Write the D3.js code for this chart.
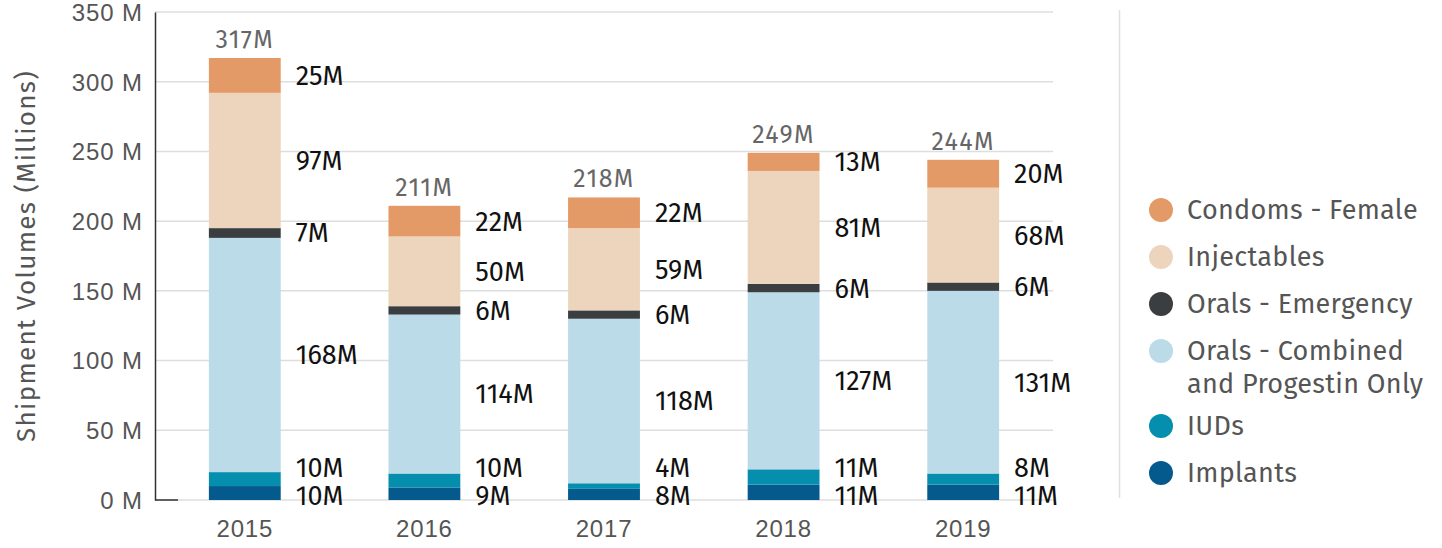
<!DOCTYPE html>
<html><head><meta charset="utf-8">
<script src="https://cdn.jsdelivr.net/npm/d3@7"></script>
<style>
html,body{margin:0;padding:0;background:#fff;}
svg{display:block;font-family:"Fira Sans","Open Sans","Noto Sans",sans-serif;}
</style></head><body>
<svg id="chart" width="1442" height="548"></svg>
<script>
const years = ["2015","2016","2017","2018","2019"];
const seriesNames = ["Implants","IUDs","Orals - Combined and Progestin Only","Orals - Emergency","Injectables","Condoms - Female"];
const implants = [10, 9, 8, 11, 11];
const iuds = [10, 10, 4, 11, 8];
const oralsCombined = [168, 114, 118, 127, 131];
const oralsEmergency = [7, 6, 6, 6, 6];
const injectables = [97, 50, 59, 81, 68];
const condomsFemale = [25, 22, 22, 13, 20];
const totals = [317, 211, 218, 249, 244];
const yTicks = [0, 50, 100, 150, 200, 250, 300, 350];
const colors = ["#045a8d", "#068eae", "#badbe7", "#3a3e40", "#ecd5bc", "#e39a67"];
const legendOrder = ["Condoms - Female","Injectables","Orals - Emergency","Orals - Combined and Progestin Only","IUDs","Implants"];

const seriesValues = [implants, iuds, oralsCombined, oralsEmergency, injectables, condomsFemale];
const table = years.map((y, i) => {
  const row = {year: y};
  seriesNames.forEach((s, k) => row[s] = seriesValues[k][i]);
  return row;
});
const stacked = d3.stack().keys(seriesNames)(table);

const svg = d3.select("#chart");
const margin = {left: 155, top: 12};
const x = d3.scaleBand().domain(years).range([margin.left, 1053]).paddingInner(0.6).paddingOuter(0.3);
const y = d3.scaleLinear().domain([0, 350]).range([500, 12]);
const color = d3.scaleOrdinal().domain(seriesNames).range(colors);

// gridlines
svg.append("g").selectAll("line").data(yTicks).join("line")
  .attr("x1", margin.left).attr("x2", 1053)
  .attr("y1", d => y(d)).attr("y2", d => y(d))
  .attr("stroke", "#dedede").attr("stroke-width", 1.5);

// y axis
const yAxis = svg.append("g").attr("transform", `translate(${margin.left},0)`)
  .call(d3.axisLeft(y).tickValues(yTicks).tickFormat(d => d + " M").tickSize(0).tickPadding(12));
yAxis.select(".domain").attr("stroke", "#333").attr("stroke-width", 1.5);
yAxis.selectAll("text").attr("font-size", 24).attr("letter-spacing", 0.9).attr("fill", "#555").attr("font-family", "inherit").attr("dy", "0.35em");
svg.append("line").attr("x1", margin.left).attr("x2", margin.left + 23).attr("y1", y(0)).attr("y2", y(0)).attr("stroke", "#333").attr("stroke-width", 1.5);

// y title
svg.append("text").attr("transform", `translate(35,${(y(0)+y(350))/2}) rotate(-90)`)
  .attr("text-anchor", "middle").attr("font-size", 26).attr("letter-spacing", 1.3).attr("fill", "#555")
  .text("Shipment Volumes  (Millions)");

// x axis
const xAxis = svg.append("g").attr("transform", `translate(0,${y(0)})`)
  .call(d3.axisBottom(x).tickSize(0).tickPadding(20));
xAxis.select(".domain").remove();
xAxis.selectAll("text").attr("font-size", 24).attr("letter-spacing", 0.8).attr("fill", "#555").attr("font-family", "inherit");

// bars
svg.append("g").selectAll("g").data(stacked).join("g")
  .attr("fill", d => color(d.key))
  .selectAll("rect").data(d => d).join("rect")
  .attr("x", d => x(d.data.year)).attr("width", x.bandwidth())
  .attr("y", d => y(d[1])).attr("height", d => y(d[0]) - y(d[1]));

// segment labels with simple collision avoidance
const minGap = 28;
years.forEach((yr, i) => {
  const pos = stacked.map(s => ({v: s[i][1] - s[i][0], y: y((s[i][0] + s[i][1]) / 2)}));
  pos[0].y = y(0) - 4;
  for (let k = 1; k < pos.length; k++) {
    if (pos[k - 1].y - pos[k].y < minGap) pos[k].y = pos[k - 1].y - minGap;
  }
  svg.append("g").selectAll("text").data(pos).join("text")
    .attr("x", x(yr) + x.bandwidth() + 15).attr("y", d => d.y)
    .attr("dy", "0.35em").attr("font-size", 27).attr("fill", "#111")
    .text(d => d3.format(".0f")(d.v) + "M");
});

// totals
svg.append("g").selectAll("text").data(years).join("text")
  .attr("x", d => x(d) + x.bandwidth() / 2)
  .attr("y", (d, i) => y(stacked[stacked.length - 1][i][1]) - 10)
  .attr("text-anchor", "middle").attr("font-size", 25).attr("letter-spacing", 1.4).attr("fill", "#666")
  .text((d, i) => totals[i] + "M");

// legend divider
svg.append("line").attr("x1", 1119.5).attr("x2", 1119.5).attr("y1", 10).attr("y2", 498)
  .attr("stroke", "#e0e0e0").attr("stroke-width", 1.5);

// legend
const lg = svg.append("g");
let ly = 210;
legendOrder.forEach(name => {
  const lines = name === "Orals - Combined and Progestin Only" ? ["Orals - Combined", "and Progestin Only"] : [name];
  lg.append("circle").attr("cx", 1161).attr("cy", ly).attr("r", 12).attr("fill", color(name));
  const t = lg.append("text").attr("x", 1187).attr("y", ly)
    .attr("font-size", 27).attr("letter-spacing", 0.3).attr("fill", "#555");
  lines.forEach((ln, j) => t.append("tspan").attr("x", 1187).attr("dy", j === 0 ? "0.35em" : "1.22em").text(ln));
  ly += lines.length > 1 ? 75 : 47;
});
</script>
</body></html>
